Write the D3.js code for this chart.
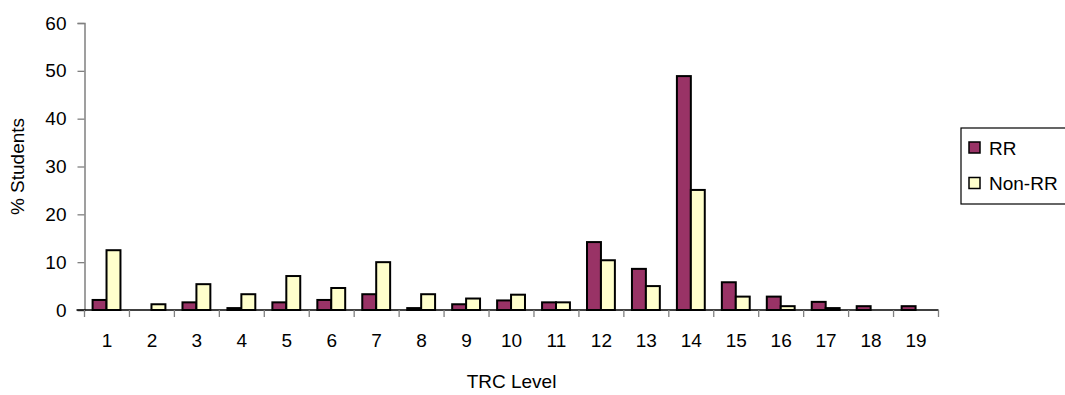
<!DOCTYPE html>
<html>
<head>
	<title>TRC Level</title>
	<script src="https://d3js.org/d3.v7.min.js"></script>
	<style>
		body { margin: 0; background: #fff; }
		text { font-family: Arial, "Liberation Sans", sans-serif; fill: #000; }
	</style>
</head>
<body>
<script>
	// data
	var levels = ["1","2","3","4","5","6","7","8","9","10","11","12","13","14","15","16","17","18","19"];
	var rr    = [2.1, 0, 1.6, 0.4, 1.6, 2.1, 3.3, 0.4, 1.2, 2.0, 1.6, 14.2, 8.6, 48.9, 5.8, 2.8, 1.7, 0.8, 0.8];
	var nonRR = [12.5, 1.2, 5.4, 3.3, 7.1, 4.6, 10.0, 3.3, 2.4, 3.2, 1.6, 10.4, 5.0, 25.1, 2.8, 0.8, 0.4, 0, 0];
	var seriesNames = ["RR", "Non-RR"];
	var colors = ["#993366", "#FFFFCC"];
	var yTicks = [0, 10, 20, 30, 40, 50, 60];

	var W = 1065, H = 395;
	var plotL = 84.5, plotR = 938.5, plotT = 23, plotB = 310;

	var svg = d3.select("body").append("svg")
		.attr("width", W)
		.attr("height", H);

	var x0 = d3.scaleBand().domain(levels).range([plotL, plotR]).padding(0);
	var bw = x0.bandwidth();
	var x1 = d3.scaleBand().domain(seriesNames).range([bw * 0.18, bw * 0.8]).padding(0);
	var y = d3.scaleLinear().domain([0, 60]).range([plotB, plotT]);

	var rows = levels.map(function(l, i){ return {level: l, vals: [rr[i], nonRR[i]]}; });

	// y axis
	var yAxis = svg.append("g")
		.attr("transform", "translate(" + plotL + ",0)")
		.call(d3.axisLeft(y).tickValues(yTicks).tickSize(7).tickPadding(11));
	yAxis.select(".domain").attr("stroke", "#808080").attr("stroke-width", 1.5);
	yAxis.selectAll(".tick line").attr("stroke", "#808080").attr("stroke-width", 1.3);
	yAxis.selectAll(".tick text").style("font-size", "19px").attr("fill", "#000");

	// bars
	var g = svg.selectAll("g.grp")
		.data(rows)
		.enter()
		.append("g")
			.attr("class", "grp")
			.attr("transform", function(d){ return "translate(" + x0(d.level) + ",0)"; });

	g.selectAll("rect")
		.data(function(d){ return d.vals.map(function(v, j){ return {name: seriesNames[j], v: v, j: j}; }).filter(function(e){ return e.v > 0; }); })
		.enter()
		.append("rect")
			.attr("x", function(d){ return x1(d.name); })
			.attr("width", x1.bandwidth())
			.attr("y", function(d){ return y(d.v); })
			.attr("height", function(d){ return y(0) - y(d.v); })
			.attr("fill", function(d){ return colors[d.j]; })
			.attr("stroke", "#000")
			.attr("stroke-width", 2);

	// x axis, ticks between categories
	var xAxis = svg.append("g")
		.attr("transform", "translate(0," + plotB + ")");
	xAxis.append("line")
		.attr("x1", plotL - 8).attr("x2", plotR)
		.attr("stroke", "#000").attr("stroke-width", 1.5);
	xAxis.selectAll("line.tk")
		.data(levels.concat(["end"]))
		.enter()
		.append("line")
			.attr("class", "tk")
			.attr("x1", function(d, i){ return plotL + i * bw; })
			.attr("x2", function(d, i){ return plotL + i * bw; })
			.attr("y1", 0).attr("y2", 7)
			.attr("stroke", "#808080").attr("stroke-width", 1.3);
	xAxis.selectAll("text")
		.data(levels)
		.enter()
		.append("text")
			.attr("x", function(d){ return x0(d) + bw / 2; })
			.attr("y", 37)
			.attr("text-anchor", "middle")
			.style("font-size", "19px")
			.text(function(d){ return d; });

	// axis titles
	svg.append("text")
		.attr("x", (plotL + plotR) / 2)
		.attr("y", 388)
		.attr("text-anchor", "middle")
		.style("font-size", "19px")
		.text("TRC Level");
	svg.append("text")
		.attr("transform", "translate(24," + (plotT + plotB) / 2 + ") rotate(-90)")
		.attr("text-anchor", "middle")
		.style("font-size", "19px")
		.text("% Students");

	// legend
	var lg = svg.append("g").attr("transform", "translate(961,128)");
	lg.append("rect")
		.attr("x", 0).attr("y", 0)
		.attr("width", 120).attr("height", 76)
		.attr("fill", "#fff")
		.attr("stroke", "#000").attr("stroke-width", 1.2);
	seriesNames.forEach(function(n, i){
		lg.append("rect")
			.attr("x", 8).attr("y", 14 + i * 35.5)
			.attr("width", 11).attr("height", 11)
			.attr("fill", colors[i])
			.attr("stroke", "#000").attr("stroke-width", 1.5);
		lg.append("text")
			.attr("x", 28).attr("y", 26.5 + i * 35.5)
			.style("font-size", "19px")
			.text(n);
	});
</script>
</body>
</html>
